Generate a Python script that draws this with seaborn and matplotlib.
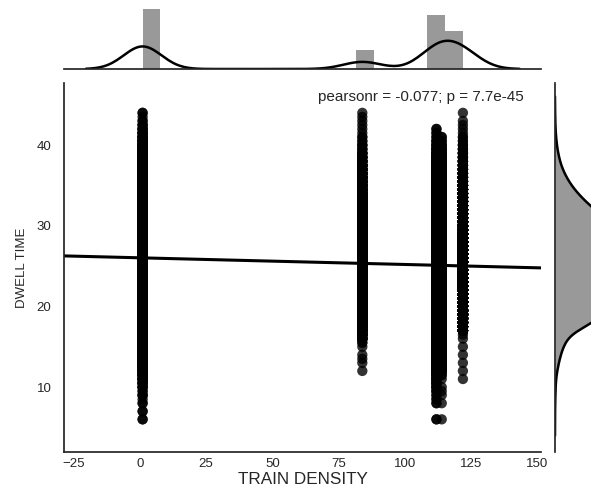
import numpy as np
import pandas as pd
import matplotlib
matplotlib.use("Agg")
import matplotlib.pyplot as plt
import seaborn as sns

# Train density of each observed group and the dwell-time counts recorded there,
# counted in half-unit dwell steps starting from first_dwell
train_density = [1, 84, 112, 114, 122]
first_dwell = [6.0, 12.0, 6.0, 6.0, 11.0]
dwell_step = 0.5

dwell_counts_1 = [
    2, 0, 2, 0, 2, 1, 3, 2, 4, 5, 7, 10, 13, 17, 21, 27, 33, 41, 49, 60,
    72, 86, 100, 118, 136, 156, 177, 200, 223, 247, 271, 295, 318, 340, 361, 378,
    394, 406, 416, 421, 424, 421, 416, 406, 394, 378, 361, 340, 318, 295, 271, 247,
    223, 200, 177, 156, 136, 118, 100, 86, 72, 60, 49, 41, 33, 27, 21, 17, 13, 10,
    7, 5, 4, 3, 2, 1, 2]
dwell_counts_84 = [
    1, 0, 1, 1, 1, 0, 1, 2, 10, 20, 30, 45, 59, 67, 75, 83, 91, 99, 106, 113,
    120, 126, 132, 136, 139, 140, 141, 140, 139, 136, 132, 126, 120, 113, 106, 99,
    91, 83, 75, 67, 59, 52, 45, 39, 34, 29, 24, 20, 17, 13, 11, 9, 7, 6, 5, 3,
    3, 2, 2, 1, 1, 1, 1, 1, 1]
dwell_counts_112 = [
    2, 0, 0, 0, 2, 2, 2, 3, 4, 5, 6, 8, 10, 13, 16, 20, 24, 30, 35, 42,
    50, 59, 68, 78, 88, 100, 111, 123, 135, 147, 159, 170, 180, 189, 197, 203,
    208, 211, 212, 211, 208, 203, 197, 189, 180, 170, 159, 147, 135, 123, 111, 100,
    88, 78, 68, 59, 50, 42, 35, 30, 24, 20, 16, 13, 10, 8, 6, 5, 4, 3, 2, 2, 2]
dwell_counts_114 = [
    1, 0, 0, 0, 1, 0, 1, 1, 1, 0, 1, 2, 6, 10, 13, 16, 20, 24, 28, 33,
    40, 47, 54, 62, 71, 80, 89, 99, 108, 118, 127, 136, 144, 151, 157, 162,
    166, 169, 170, 169, 166, 162, 157, 151, 144, 136, 127, 118, 108, 99, 89, 80,
    71, 62, 54, 47, 40, 33, 28, 24, 20, 16, 13, 10, 8, 6, 5, 4, 3, 2, 2]
dwell_counts_122 = [
    1, 0, 1, 0, 1, 0, 1, 0, 1, 0, 1, 1, 40, 120, 156, 173, 190, 207, 223, 238,
    252, 265, 276, 284, 291, 295, 296, 295, 291, 284, 276, 265, 252, 238, 223, 207,
    190, 173, 156, 140, 124, 109, 95, 82, 70, 60, 50, 42, 35, 28, 23, 18, 15, 11,
    9, 7, 6, 4, 3, 2, 2, 1, 1, 1, 1, 0, 1]

stat_text = "pearsonr = -0.077; p = 7.7e-45"
x_label = "TRAIN DENSITY"
y_label = "DWELL TIME"

all_counts = [dwell_counts_1, dwell_counts_84, dwell_counts_112,
              dwell_counts_114, dwell_counts_122]
xs, ys = [], []
for x, start, counts in zip(train_density, first_dwell, all_counts):
    values = start + dwell_step * np.arange(len(counts))
    ys.append(np.repeat(values, counts))
    xs.append(np.full(int(np.sum(counts)), x))
df = pd.DataFrame({x_label: np.concatenate(xs), y_label: np.concatenate(ys)})

sns.set_style("white")
plt.rcParams["font.family"] = ["Liberation Sans", "DejaVu Sans"]
ink = "#262626"
plt.rcParams["text.color"] = ink
plt.rcParams["axes.labelcolor"] = ink
plt.rcParams["xtick.color"] = ink
plt.rcParams["ytick.color"] = ink

W, H = 591, 492
fig = plt.figure(figsize=(W / 100, H / 100), dpi=100)

def box(left, top, right, bottom):
    return [left / W, 1 - bottom / H, (right - left) / W, (bottom - top) / H]

ax_joint = fig.add_axes(box(64, 83, 541, 452))
ax_top = fig.add_axes(box(64, 6, 541, 69), sharex=ax_joint)
ax_right = fig.add_axes(box(555, 83, 650, 452), sharey=ax_joint)

ax_joint.set_xlim(-28.7, 151.5)
ax_joint.set_ylim(1.95, 47.7)

# marginal distributions
sns.histplot(data=df, x=x_label, bins=18, stat="density", color="k", alpha=0.4,
             linewidth=0, ax=ax_top)
sns.kdeplot(data=df, x=x_label, bw_adjust=1.059, cut=3, color="k", linewidth=1.8,
            ax=ax_top)
sns.kdeplot(data=df, y=y_label, bw_adjust=1.059, cut=3, color="k", fill=True,
            alpha=0.4, linewidth=0, ax=ax_right)
sns.kdeplot(data=df, y=y_label, bw_adjust=1.059, cut=3, color="k", linewidth=1.8,
            ax=ax_right)

# joint scatter with the fitted regression line
sns.regplot(data=df, x=x_label, y=y_label, ax=ax_joint, color="k", ci=None,
            truncate=False,
            scatter_kws={"s": 55, "linewidths": 0, "edgecolor": "none"},
            line_kws={"linewidth": 2.2})

ax_joint.set_xlabel(x_label, fontsize=12.3, labelpad=2)
ax_joint.set_ylabel(y_label, fontsize=9.5, labelpad=6)
ax_joint.tick_params(axis="x", labelsize=9.5, length=0, pad=4)
ax_joint.tick_params(axis="y", labelsize=9.5, length=0, pad=9)
ax_joint.text(0.964, 0.962, stat_text, transform=ax_joint.transAxes,
              ha="right", va="center", fontsize=11)

for side in ("top", "right"):
    ax_joint.spines[side].set_visible(False)
for spine in ax_joint.spines.values():
    spine.set_color(ink)
    spine.set_linewidth(1.25)

for side in ("top", "left", "right"):
    ax_top.spines[side].set_visible(False)
ax_top.spines["bottom"].set_color(ink)
ax_top.spines["bottom"].set_linewidth(1.25)
ax_top.tick_params(labelbottom=False, labelleft=False, length=0)
ax_top.set_xlabel("")
ax_top.set_ylabel("")

for side in ("top", "right", "bottom"):
    ax_right.spines[side].set_visible(False)
ax_right.spines["left"].set_color(ink)
ax_right.spines["left"].set_linewidth(1.25)
ax_right.tick_params(labelbottom=False, labelleft=False, length=0)
ax_right.set_xlabel("")
ax_right.set_ylabel("")

fig.savefig("out.png", dpi=100)
